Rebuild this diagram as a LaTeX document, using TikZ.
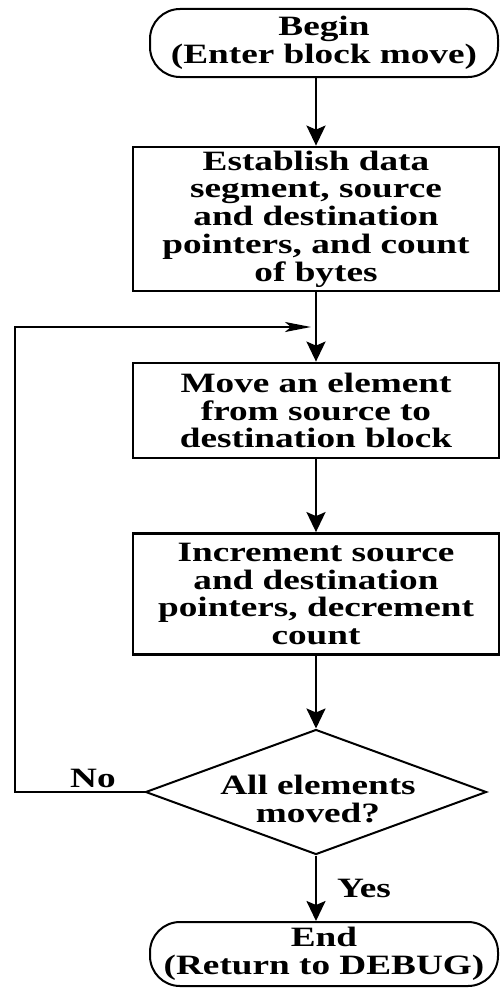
\documentclass[tikz,border=0pt]{standalone}
\usepackage{fontspec}
\setmainfont[FakeStretch=1.33]{Liberation Serif}
\usetikzlibrary{arrows.meta,shapes.geometric}

\begin{document}
\begin{tikzpicture}[x=1pt,y=-1pt,
  font=\fontsize{28}{27.8}\selectfont\bfseries,
  proc/.style={draw, line width=2.8pt, minimum width=366pt, align=center, inner sep=0pt},
  term/.style={draw, line width=2pt, rounded corners=30pt, minimum width=348pt,
               minimum height=68pt, align=center, inner sep=0pt},
  decision/.style={draw, diamond, line width=2pt, aspect=2.73, inner sep=0pt,
               minimum width=341pt, minimum height=125pt},
  flow/.style={line width=2.4pt, -{Stealth[length=20pt,width=19pt,inset=4pt]}},
  loopback/.style={line width=2.2pt, -{Stealth[length=26pt,width=10pt,inset=6pt]}},
  plain/.style={line width=2.2pt}
]
\useasboundingbox (0,0) rectangle (500,990);

% terminals, process steps and the decision
\node[term] (begin) at (324,43) {Begin\\(Enter block move)};
\node[proc, minimum height=144pt] (est) at (316,219)
  {Establish data\\segment, source\\and destination\\pointers, and count\\of bytes};
\node[proc, minimum height=95pt] (move) at (316,410.5)
  {Move an element\\from source to\\destination block};
\node[proc, minimum height=121pt] (incr) at (316,594)
  {Increment source\\and destination\\pointers, decrement\\count};
\node[decision] (dec) at (316,792) {};
\node[align=center, inner sep=0pt] (dectext) at (318,799) {All elements\\moved?};
\node[term, minimum height=64pt] (end) at (324,954) {End\\(Return to DEBUG)};

% loop-back path on the left
\coordinate (join) at (316,327);
\coordinate (rail) at (15,0);

% connectors
\draw[flow] (est.north |- begin.south) -- (est.north);
\draw[flow] (est.south) -- (move.north);
\draw[flow] (move.south) -- (incr.north);
\draw[flow] (incr.south) -- (dec.north);
\draw[flow] (dec.south) -- (dec.south |- end.north);
\draw[loopback] (dec.west) -- (dec.west -| rail) |- ([xshift=-5pt]join);

% branch labels
\node[anchor=base, inner sep=0pt] (no) at (93,787) {No};
\node[anchor=base, inner sep=0pt] (yes) at (364,897) {Yes};
\end{tikzpicture}
\end{document}
